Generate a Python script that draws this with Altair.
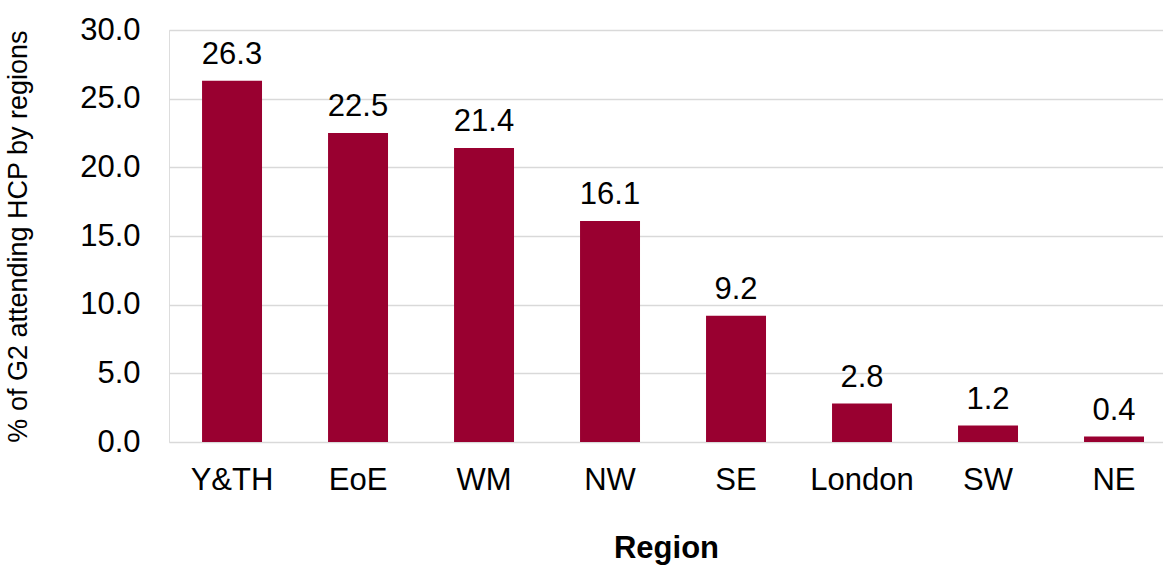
import altair as alt
import pandas as pd

regions = ["Y&TH", "EoE", "WM", "NW", "SE", "London", "SW", "NE"]
values = [26.3, 22.5, 21.4, 16.1, 9.2, 2.8, 1.2, 0.4]

df = pd.DataFrame({"region": regions, "pct": values})

FONT = "Liberation Sans"
BAR = "#990030"

x = alt.X(
    "region:N",
    sort=regions,
    title="Region",
    scale=alt.Scale(paddingInner=0.524, paddingOuter=0.2065, align=0.635),
    axis=alt.Axis(
        labelAngle=0, labelFont=FONT, labelFontSize=31, labelColor="#000000",
        labelPadding=23, ticks=False, domain=False,
        titleFont=FONT, titleFontSize=31, titleFontWeight="bold",
        titleColor="#000000", titlePadding=38,
    ),
)
y = alt.Y(
    "pct:Q",
    title="% of G2 attending HCP by regions",
    scale=alt.Scale(domain=[0, 30], nice=False),
    axis=alt.Axis(
        values=[0, 5, 10, 15, 20, 25, 30], format=".1f",
        labelFont=FONT, labelFontSize=31, labelColor="#000000",
        labelPadding=29, ticks=False, domain=False,
        grid=True, gridColor="#d9d9d9", gridWidth=1.5,
        titleFont=FONT, titleFontSize=27, titleFontWeight="normal",
        titleColor="#000000", titlePadding=47,
    ),
)

base = alt.Chart(df)
bars = base.mark_bar(color=BAR).encode(x=x, y=y)
labels = base.mark_text(
    font=FONT, fontSize=31, color="#000000", baseline="alphabetic", dy=-17
).encode(x=alt.X("region:N", sort=regions), y="pct:Q", text=alt.Text("pct:Q", format=".1f"))

chart = (
    alt.layer(bars, labels)
    .properties(
        width=994, height=412,
        autosize=alt.AutoSizeParams(type="none"),
        padding={"left": 169, "top": 30, "right": 0, "bottom": 123},
    )
    .configure_view(stroke=None)
    .configure(background="#ffffff")
)

chart.save("out.html", embed_options={"renderer": "svg", "actions": False})
